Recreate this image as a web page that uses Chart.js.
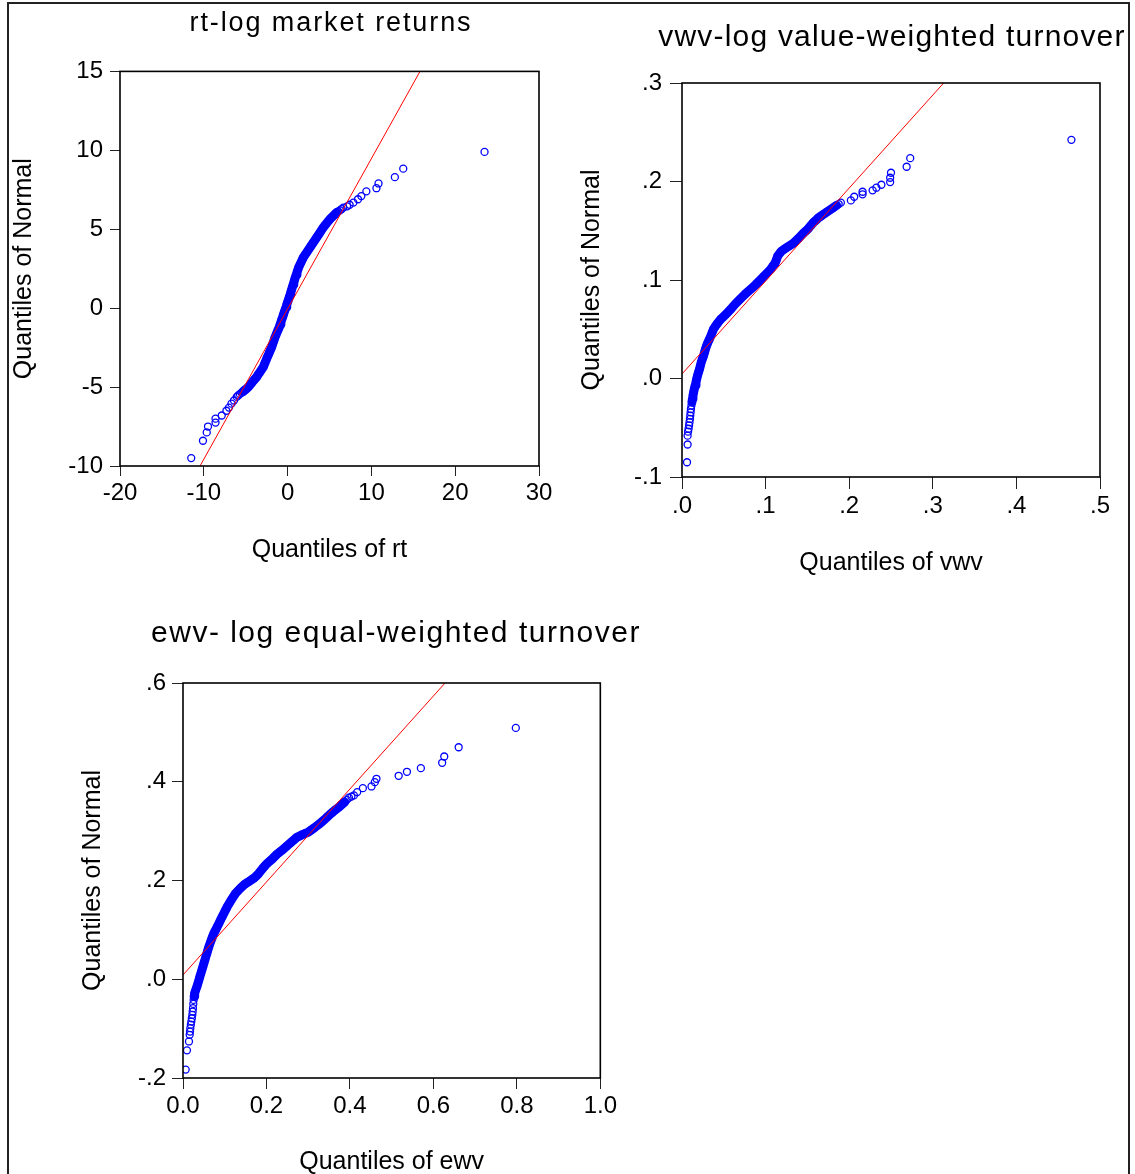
<!DOCTYPE html>
<html>
<head>
<meta charset="utf-8">
<title>Quantile-quantile plots</title>
<script src="https://cdn.jsdelivr.net/npm/chart.js@4.4.1/dist/chart.umd.min.js"></script>
<style>
  html, body { margin: 0; padding: 0; background: #fff; }
  body { width: 1135px; height: 1174px; position: relative; overflow: hidden; font-family: 'Liberation Sans', Arial, sans-serif; }
  #frame { position: absolute; left: 7px; top: 2px; width: 1123px; height: 1200px; border: 2px solid #222; box-sizing: border-box; }
  canvas { position: absolute; }
  .clip { position: absolute; overflow: hidden; height: 50px; }
  .ttl { position: absolute; top: 0; white-space: nowrap; line-height: 1; color: #000; text-align: center; }
</style>
</head>
<body>
<div id="frame"></div>
<canvas id="rt-chart" width="551" height="540" style="left:9px;top:50px"></canvas>
<canvas id="vwv-chart" width="558" height="540" style="left:570px;top:60px"></canvas>
<canvas id="ewv-chart" width="560" height="530" style="left:60px;top:660px"></canvas>

<script>
// ── Data ─────────────────────────────────────────────────────────────────
// rt: empirical quantiles (x) against normal quantiles (y)
const rtQuantiles = [-11.5,-10.1,-9.65,-9.5,-8.6,-8.6,-7.86,-7.3,-7.0,-6.7,-6.4,
  -6.07,-5.9,-5.7,-5.5,-5.3,-5.15,-5.0,-4.85,-4.69,-4.5,-4.3,-4.15,-4.0,-3.85,-3.69,-3.5,-3.3,-3.1,-2.9,-2.78,
  -2.65,-2.53,-2.42,-2.28,-2.15,-2.02,-1.9,-1.8,-1.7,-1.6,-1.5,-1.37,-1.25,-1.12,-0.99,-0.9,-0.8,-0.7,-0.59,-0.5,
  -0.4,-0.3,-0.19,-0.1,0.0,0.1,0.2,0.29,0.38,0.47,0.56,0.65,0.74,0.83,0.92,1.02,1.12,1.22,1.32,1.46,
  1.6,1.73,1.87,2.07,2.27,2.47,2.67,2.87,3.07,3.27,3.47,3.67,3.87,4.06,4.26,4.46,4.66,4.86,5.06,5.26,
  5.46,5.66,5.86,6.05,6.25,6.45,6.65,
  7.1,7.4,7.85,8.4,8.8,9.4,10.6,10.85,12.8,13.8,23.5];
const rtNormal = [-9.5,-8.4,-7.87,-7.5,-7.25,-7.0,-6.8,-6.5,-6.3,-6.05,-5.85,
  -5.62,-5.53,-5.45,-5.36,-5.28,-5.21,-5.15,-5.08,-5.0,-4.88,-4.75,-4.65,-4.55,-4.46,-4.36,-4.2,-4.05,-3.89,-3.73,-3.57,
  -3.4,-3.25,-3.1,-2.94,-2.78,-2.62,-2.47,-2.31,-2.15,-2.0,-1.84,-1.68,-1.52,-1.36,-1.2,-1.04,-0.88,-0.72,-0.57,-0.41,
  -0.25,-0.1,0.06,0.22,0.38,0.53,0.69,0.85,1.0,1.16,1.32,1.48,1.63,1.79,1.95,2.11,2.27,2.42,2.58,2.74,
  2.9,3.05,3.21,3.37,3.52,3.68,3.84,4.0,4.16,4.32,4.48,4.64,4.8,4.95,5.11,5.25,5.38,5.51,5.64,5.75,
  5.85,5.96,6.06,6.13,6.2,6.28,6.37,
  6.45,6.55,6.69,6.9,7.1,7.4,7.6,7.9,8.3,8.84,9.9];
const rtLineX = [-10.45, 15.8];
const rtLineY = [-10, 15];
const rtXTicks = [-20, -10, 0, 10, 20, 30];
const rtXLabels = ['-20', '-10', '0', '10', '20', '30'];
const rtYTicks = [-10, -5, 0, 5, 10, 15];
const rtYLabels = ['-10', '-5', '0', '5', '10', '15'];

// vwv
const vwvQuantiles = [0.006,0.0067,0.0067,0.0073,0.0079,0.0085,0.009,0.0095,0.0099,0.0103,
  0.0107,0.0113,0.0119,0.0125,0.0131,0.0139,0.0147,0.0157,0.0167,0.0176,
  0.0186,0.0198,0.021,0.022,0.023,0.0244,0.0258,0.027,0.0281,0.0295,
  0.031,0.0328,0.0346,0.0361,0.0377,0.0397,0.0417,0.0441,0.0465,0.0496,
  0.0528,0.0556,0.0584,0.061,0.0636,0.0665,0.0695,0.0725,0.0755,0.0789,
  0.0823,0.0855,0.0886,0.0916,0.0946,0.0975,0.1005,0.1033,0.1061,0.1087,
  0.1113,0.113,0.1145,0.1168,0.1192,0.1222,0.1252,0.1291,0.1331,0.136,
  0.139,0.142,0.145,0.148,0.151,0.154,0.157,0.16,0.1629,0.1659,
  0.1689,0.1728,0.1768,0.1808,0.1848,0.1874,0.19,
  0.202,0.206,0.216,0.216,0.228,0.2325,0.2385,0.249,0.249,0.25,
  0.2687,0.273,0.4658];
const vwvNormal = [-0.085,-0.067,-0.058,-0.054,-0.051,-0.0475,-0.0443,-0.041,-0.0376,-0.0343,
  -0.031,-0.0275,-0.024,-0.0207,-0.0174,-0.014,-0.0106,-0.0072,-0.0038,-0.0004,
  0.003,0.0064,0.0097,0.0131,0.0165,0.0199,0.0232,0.0266,0.03,0.0334,
  0.0367,0.04,0.0434,0.0468,0.0502,0.0527,0.0552,0.0578,0.0603,0.0628,
  0.0654,0.0679,0.0704,0.073,0.0755,0.078,0.0806,0.0831,0.0856,0.0882,
  0.0907,0.0932,0.0957,0.0983,0.1008,0.1033,0.1059,0.1084,0.1109,0.114,
  0.117,0.1207,0.1244,0.127,0.1295,0.1312,0.1329,0.1351,0.1373,0.1396,
  0.142,0.1447,0.1474,0.1497,0.1521,0.1552,0.1582,0.1605,0.1629,0.1647,
  0.1666,0.1688,0.171,0.1733,0.1757,0.1771,0.1785,
  0.1808,0.1845,0.187,0.1896,0.191,0.1937,0.1967,0.1994,0.2038,0.2089,
  0.215,0.2237,0.2423];
const vwvLineX = [0, 0.313];
const vwvLineY = [0.0046, 0.3];
const vwvXTicks = [0, 0.1, 0.2, 0.3, 0.4, 0.5];
const vwvXLabels = ['.0', '.1', '.2', '.3', '.4', '.5'];
const vwvYTicks = [-0.1, 0, 0.1, 0.2, 0.3];
const vwvYLabels = ['-.1', '.0', '.1', '.2', '.3'];

// ewv
const ewvQuantiles = [0.0064,0.0095,0.0143,0.016,0.0168,0.0176,0.0188,0.02,0.0212,0.0224,
  0.0232,0.0239,0.0247,0.0255,0.0267,0.0279,0.0306,0.0334,0.0358,0.0382,
  0.0405,0.0429,0.0453,0.0477,0.0501,0.0525,0.0548,0.0572,0.0596,0.062,
  0.0648,0.0677,0.0708,0.0739,0.078,0.082,0.086,0.0899,0.0938,0.0978,
  0.1018,0.1059,0.1106,0.1154,0.1205,0.1257,0.1313,0.1369,0.142,0.1472,
  0.1531,0.1591,0.165,0.171,0.1762,0.1813,0.186,0.1908,0.196,0.2013,
  0.2072,0.2132,0.2191,0.2251,0.2311,0.2371,0.2425,0.248,0.254,0.26,
  0.266,0.2719,0.279,0.2862,0.2933,0.3005,0.3073,0.3141,0.3209,0.3277,
  0.3336,0.3396,0.3455,0.3515,0.3575,0.3635,0.3686,0.3737,0.3805,0.3873,
  0.3925,0.3976,0.4035,0.4095,0.4174,0.431,0.4517,0.4596,0.4636,0.5168,
  0.5366,0.57,0.621,0.626,0.6606,0.7975];
const ewvNormal = [-0.183,-0.144,-0.126,-0.1125,-0.106,-0.099,-0.092,-0.0857,-0.079,-0.0721,
  -0.0654,-0.0586,-0.05,-0.0418,-0.035,-0.0283,-0.0216,-0.0149,-0.0082,-0.0014,
  0.0054,0.0121,0.0188,0.0255,0.0323,0.039,0.0458,0.0525,0.0592,0.0659,
  0.0727,0.0794,0.0862,0.0929,0.0996,0.1063,0.1131,0.1198,0.1266,0.1333,
  0.14,0.1467,0.1535,0.1602,0.167,0.1737,0.1788,0.1838,0.1879,0.1919,
  0.1953,0.1986,0.202,0.2053,0.2097,0.2141,0.2192,0.2242,0.2293,0.2343,
  0.2387,0.243,0.248,0.2531,0.2572,0.2612,0.2652,0.2693,0.2737,0.278,
  0.2825,0.2869,0.2899,0.2929,0.2956,0.2982,0.3023,0.3063,0.3108,0.3152,
  0.3195,0.3238,0.3286,0.3333,0.3377,0.342,0.3454,0.3487,0.3538,0.3588,
  0.3633,0.3677,0.37,0.3723,0.379,0.387,0.3905,0.3992,0.406,0.4121,
  0.4202,0.4275,0.4384,0.4511,0.4699,0.5091];
const ewvLineX = [0, 0.628];
const ewvLineY = [0.0087, 0.6];
const ewvXTicks = [0, 0.2, 0.4, 0.6, 0.8, 1.0];
const ewvXLabels = ['0.0', '0.2', '0.4', '0.6', '0.8', '1.0'];
const ewvYTicks = [-0.2, 0, 0.2, 0.4, 0.6];
const ewvYLabels = ['-.2', '.0', '.2', '.4', '.6'];

const FONT = "'Liberation Sans', Arial, sans-serif";
const BLUE = '#0000ff';

// ── Titles (plain text above each panel) ─────────────────────────────────
function addTitle(text, cx, top, size, spacing, clipRight) {
  const wrap = document.createElement('div');
  wrap.className = 'clip';
  const half = 320;
  wrap.style.left = (cx - half) + 'px';
  wrap.style.top = top + 'px';
  wrap.style.width = (clipRight ? clipRight - (cx - half) : half * 2) + 'px';
  const t = document.createElement('div');
  t.className = 'ttl';
  t.style.left = '0px';
  t.style.width = (half * 2) + 'px';
  t.style.fontSize = size + 'px';
  t.style.letterSpacing = spacing + 'px';
  t.textContent = text;
  wrap.appendChild(t);
  document.body.appendChild(wrap);
}
addTitle('rt-log market returns', 331, 9, 27, 1.9);
addTitle('vwv-log value-weighted turnover', 892, 21, 30, 1.2, 1128);
addTitle('ewv- log equal-weighted turnover', 396, 617, 30, 1.5);

// ── Plot frame plugin ────────────────────────────────────────────────────
const frameBox = {
  id: 'frameBox',
  afterDatasetsDraw(chart) {
    const { ctx, chartArea: a } = chart;
    ctx.save();
    ctx.strokeStyle = '#000';
    ctx.lineWidth = 1.6;
    ctx.strokeRect(a.left, a.top, a.right - a.left, a.bottom - a.top);
    ctx.restore();
  }
};

function zip(xs, ys) { return xs.map((x, i) => ({ x, y: ys[i] })); }

function qqChart(id, o) {
  const ctx = document.getElementById(id).getContext('2d');
  // where the circles pile up into a solid band, the gaps between them are inked in
  const inBand = c => c.p0DataIndex >= o.band[0] && c.p1DataIndex <= o.band[1];
  return new Chart(ctx, {
    type: 'scatter',
    data: {
      datasets: [
        {
          type: 'line',
          data: zip(o.lineX, o.lineY),
          borderColor: '#ff0000',
          borderWidth: 1,
          pointRadius: 0,
          fill: false,
          order: 0
        },
        {
          data: zip(o.qx, o.qy),
          showLine: true,
          borderColor: BLUE,
          borderWidth: 9,
          borderCapStyle: 'round',
          borderJoinStyle: 'round',
          segment: { borderColor: c => inBand(c) ? BLUE : 'rgba(0,0,0,0)' },
          pointStyle: 'circle',
          pointRadius: 3.5,
          pointBorderWidth: 1.3,
          pointBorderColor: BLUE,
          pointBackgroundColor: 'rgba(0,0,0,0)',
          order: 1
        }
      ]
    },
    options: {
      responsive: false,
      devicePixelRatio: 1,
      animation: false,
      events: [],
      layout: { padding: o.pad },
      plugins: { legend: { display: false }, tooltip: { enabled: false }, title: { display: false } },
      scales: {
        x: {
          type: 'linear',
          min: o.xTicks[0],
          max: o.xTicks[o.xTicks.length - 1],
          afterBuildTicks: s => { s.ticks = o.xTicks.map(v => ({ value: v })); },
          afterFit: s => { s.height = o.xH; },
          grid: { drawOnChartArea: false, drawTicks: true, tickLength: o.tl, color: '#222', lineWidth: 1 },
          border: { display: false },
          ticks: { autoSkip: false, maxRotation: 0, padding: 3, color: '#000', font: { family: FONT, size: 24 },
                   callback: (v, i) => o.xLabels[i] },
          title: { display: true, text: o.xTitle, color: '#000', font: { family: FONT, size: 25 },
                   padding: { top: 0, bottom: o.xTp } }
        },
        y: {
          type: 'linear',
          min: o.yTicks[0],
          max: o.yTicks[o.yTicks.length - 1],
          afterBuildTicks: s => { s.ticks = o.yTicks.map(v => ({ value: v })); },
          afterFit: s => { s.width = o.yW; },
          grid: { drawOnChartArea: false, drawTicks: true, tickLength: o.tl, color: '#222', lineWidth: 1 },
          border: { display: false },
          ticks: { autoSkip: false, padding: o.yTickPad, color: '#000', font: { family: FONT, size: 24 },
                   callback: (v, i) => o.yLabels[i] },
          title: { display: true, text: 'Quantiles of Normal', color: '#000', font: { family: FONT, size: 25 },
                   padding: { top: o.yTp, bottom: 0 } }
        }
      }
    },
    plugins: [frameBox]
  });
}

// ── Panels ───────────────────────────────────────────────────────────────
qqChart('rt-chart', {
  qx: rtQuantiles, qy: rtNormal, lineX: rtLineX, lineY: rtLineY,
  xTicks: rtXTicks, xLabels: rtXLabels, yTicks: rtYTicks, yLabels: rtYLabels,
  xTitle: 'Quantiles of rt', band: [15, 93],
  pad: { left: 0, top: 20, right: 21, bottom: 0 },
  yW: 111, xH: 124, tl: 10, yTickPad: 7, yTp: 0, xTp: 25
});

qqChart('vwv-chart', {
  qx: vwvQuantiles, qy: vwvNormal, lineX: vwvLineX, lineY: vwvLineY,
  xTicks: vwvXTicks, xLabels: vwvXLabels, yTicks: vwvYTicks, yLabels: vwvYLabels,
  xTitle: 'Quantiles of vwv', band: [12, 84],
  pad: { left: 0, top: 23, right: 28, bottom: 0 },
  yW: 112, xH: 123, tl: 12, yTickPad: 8, yTp: 7, xTp: 22
});

qqChart('ewv-chart', {
  qx: ewvQuantiles, qy: ewvNormal, lineX: ewvLineX, lineY: ewvLineY,
  xTicks: ewvXTicks, xLabels: ewvXLabels, yTicks: ewvYTicks, yLabels: ewvYLabels,
  xTitle: 'Quantiles of ewv', band: [14, 89],
  pad: { left: 0, top: 23, right: 18, bottom: 0 },
  yW: 123, xH: 112, tl: 11, yTickPad: 6, yTp: 18, xTp: 13
});
</script>
</body>
</html>
